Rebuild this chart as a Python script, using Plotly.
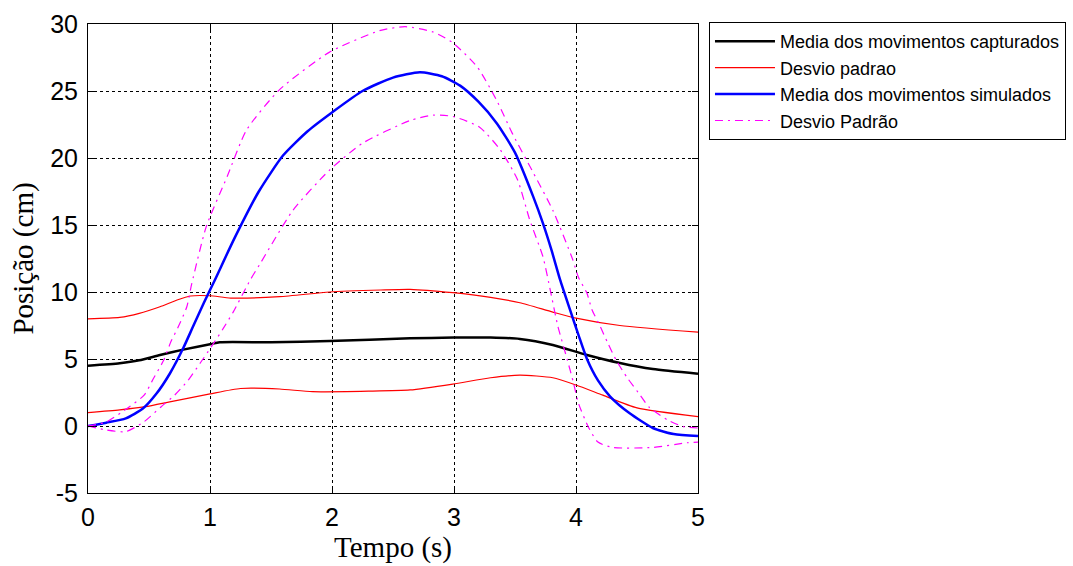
import plotly.graph_objects as go

# ---- data ----
t_black = [0, 0.26, 0.42, 0.59, 0.78, 1.0, 1.08, 1.5, 1.98, 2.64, 3.0, 3.3, 3.54, 3.81, 4.09, 4.36, 4.63, 5.0]
y_black = [4.5, 4.68, 4.9, 5.3, 5.7, 6.1, 6.25, 6.25, 6.34, 6.54, 6.6, 6.6, 6.5, 6.05, 5.3, 4.7, 4.25, 3.9]

t_red_up = [0, 0.26, 0.42, 0.59, 0.73, 0.84, 1.0, 1.17, 1.57, 1.98, 2.4, 2.64, 2.99, 3.3, 3.54, 3.81, 4.0, 4.36, 5.0]
y_red_up = [8.0, 8.1, 8.4, 8.9, 9.4, 9.7, 9.72, 9.55, 9.65, 10.0, 10.15, 10.2, 9.95, 9.6, 9.2, 8.5, 8.05, 7.5, 7.0]

t_red_lo = [0, 0.26, 0.47, 0.67, 1.0, 1.25, 1.57, 1.84, 2.3, 2.64, 2.99, 3.3, 3.54, 3.81, 4.0, 4.22, 4.5, 5.0]
y_red_lo = [1.0, 1.2, 1.44, 1.8, 2.4, 2.8, 2.76, 2.56, 2.6, 2.69, 3.13, 3.6, 3.8, 3.6, 3.06, 2.3, 1.35, 0.7]

t_blue = [0, 0.15, 0.31, 0.45, 0.56, 0.67, 0.78, 0.86, 0.95, 1.04, 1.2, 1.4, 1.6, 1.8, 2.0, 2.25, 2.5, 2.72,
          2.9, 3.05, 3.2, 3.35, 3.5, 3.65, 3.73, 3.80, 3.87, 3.95, 4.02, 4.09, 4.18, 4.28, 4.44, 4.63, 4.8, 5.0]
y_blue = [0, 0.25, 0.57, 1.3, 2.4, 3.9, 5.8, 7.4, 9.2, 10.9, 14.0, 17.5, 20.2, 22.0, 23.4, 25.0, 26.0, 26.4,
          26.1, 25.4, 24.2, 22.6, 20.4, 17.1, 15.1, 13.1, 10.9, 8.7, 6.8, 5.0, 3.4, 2.2, 0.95, -0.15, -0.6, -0.75]

t_mag_up = [0, 0.15, 0.34, 0.46, 0.54, 0.62, 0.68, 0.74, 0.81, 0.85, 0.97, 1.14, 1.30, 1.57, 1.98, 2.39,
            2.6, 2.83, 2.99, 3.19, 3.35, 3.48, 3.65, 3.81, 3.97, 4.02, 4.09, 4.13, 4.2, 4.26, 4.33, 4.42,
            4.51, 4.6, 4.75, 4.88, 5.0]
y_mag_up = [0, 0.3, 1.44, 2.3, 3.6, 4.9, 6.3, 7.4, 8.9, 10.6, 14.9, 18.6, 22.1, 25.1, 27.9, 29.5,
            29.8, 29.4, 28.6, 26.8, 24.3, 21.8, 18.9, 16.1, 12.5, 11.1, 9.9, 8.7, 7.4, 6.2, 4.9, 3.6,
            2.5, 1.4, 0.45, -0.05, -0.15]

t_mag_lo = [0, 0.15, 0.31, 0.46, 0.6, 0.71, 0.82, 0.92, 1.01, 1.11, 1.19, 1.33, 1.41, 1.68, 1.98, 2.25,
            2.64, 2.83, 2.99, 3.21, 3.38, 3.52, 3.62, 3.73, 3.79, 3.85, 3.93, 3.98, 4.02, 4.1, 4.18, 4.3,
            4.63, 4.91, 5.0]
y_mag_lo = [0, -0.3, -0.42, 0.32, 1.44, 2.3, 3.4, 4.7, 5.9, 7.3, 8.5, 10.9, 12.1, 16.1, 19.1, 21.1,
            22.8, 23.2, 23.1, 22.3, 20.6, 18.4, 15.4, 12.6, 10.1, 7.5, 4.9, 3.2, 1.7, -0.05, -1.2, -1.6,
            -1.6, -1.25, -1.2]

x_ticks = [0, 1, 2, 3, 4, 5]
y_ticks = [-5, 0, 5, 10, 15, 20, 25, 30]

fig = go.Figure()
fig.add_trace(go.Scatter(x=t_black, y=y_black, mode="lines", name="Media dos movimentos capturados",
                         line=dict(color="black", width=2.5, shape="spline", smoothing=0.6)))
fig.add_trace(go.Scatter(x=t_red_up, y=y_red_up, mode="lines", name="Desvio padrao",
                         line=dict(color="#ff0000", width=1.2, shape="spline", smoothing=0.6)))
fig.add_trace(go.Scatter(x=t_red_lo, y=y_red_lo, mode="lines", name="Desvio padrao", showlegend=False,
                         line=dict(color="#ff0000", width=1.2, shape="spline", smoothing=0.6)))
fig.add_trace(go.Scatter(x=t_blue, y=y_blue, mode="lines", name="Media dos movimentos simulados",
                         line=dict(color="#0000ff", width=2.5, shape="spline", smoothing=0.6)))
fig.add_trace(go.Scatter(x=t_mag_up, y=y_mag_up, mode="lines", name="Desvio Padrão",
                         line=dict(color="#ff00ff", width=1.2, dash="8px,5px,2px,5px", shape="spline", smoothing=0.6)))
fig.add_trace(go.Scatter(x=t_mag_lo, y=y_mag_lo, mode="lines", name="Desvio Padrão", showlegend=False,
                         line=dict(color="#ff00ff", width=1.2, dash="8px,5px,2px,5px", shape="spline", smoothing=0.6)))

axis_common = dict(
    showline=True, linecolor="black", linewidth=1, mirror="ticks",
    ticks="inside", ticklen=6, tickcolor="black",
    showgrid=True, gridcolor="black", gridwidth=1, griddash="3px,3px",
    zeroline=False,
    tickfont=dict(family="Liberation Sans, Arial", size=25, color="black"),
)

fig.update_xaxes(range=[0, 5], tickvals=x_ticks, ticktext=[str(v) for v in x_ticks],
                 ticklabelstandoff=2,
                 title=dict(text="Tempo (s)", font=dict(family="Liberation Serif, Times New Roman", size=29, color="black"),
                            standoff=2),
                 **axis_common)
fig.update_yaxes(range=[-5, 30], tickvals=y_ticks, ticktext=[str(v) for v in y_ticks],
                 ticklabelstandoff=4,
                 title=dict(text="Posição (cm)", font=dict(family="Liberation Serif, Times New Roman", size=29, color="black"),
                            standoff=8),
                 **axis_common)

fig.update_layout(
    width=1073, height=566,
    margin=dict(l=88, r=375, t=24, b=73, autoexpand=False),
    paper_bgcolor="white", plot_bgcolor="white",
    legend=dict(x=1.018, y=1.004, xanchor="left", yanchor="top",
                bgcolor="white", bordercolor="black", borderwidth=1,
                font=dict(family="Liberation Sans, Arial", size=18, color="black"),
                itemwidth=60, tracegroupgap=0),
    showlegend=True,
)

fig.write_html("out.html")
